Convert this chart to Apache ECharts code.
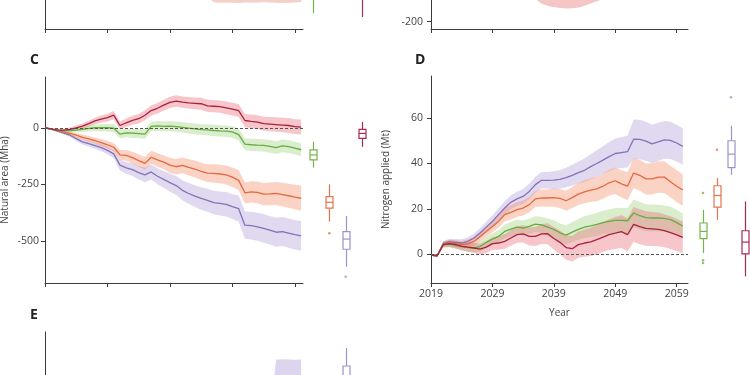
<!DOCTYPE html>
<html>
<head>
<meta charset="utf-8">
<script src="https://cdn.jsdelivr.net/npm/echarts@6/dist/echarts.min.js"></script>
<style>
  html, body { margin: 0; padding: 0; background: #fff; }
  #chart { width: 750px; height: 375px; }
</style>
</head>
<body>
<div id="chart"></div>
<script>
// ---- data ----
var years = [2019,2020,2021,2022,2023,2024,2025,2026,2027,2028,2029,2030,2031,2032,2033,2034,2035,2036,2037,2038,2039,
             2040,2041,2042,2043,2044,2045,2046,2047,2048,2049,2050,2051,2052,2053,2054,2055,2056,2057,2058,2059,2060];
var yearTicks = [2019, 2029, 2039, 2049, 2059];
var boxCats = ['green', 'orange', 'purple', 'red'];

// panel C: natural area (Mha)
var redC    = [0,-5,-10,-10,-7,0,7,18,30,38,45,56,10,22,33,40,55,76,86,100,112,118,113,110,108,106,97,95,93,88,82,76,32,28,25,18,16,14,12,10,5,3];
var greenC  = [0,-6,-12,-13,-13,-10,-7,-3,0,0,0,-2,-28,-23,-24,-26,-28,6,8,6,7,5,2,-2,-5,-8,-9,-12,-14,-15,-18,-30,-72,-75,-77,-78,-82,-88,-80,-83,-90,-97];
var orangeC = [0,-6,-13,-19,-25,-33,-42,-49,-57,-66,-75,-86,-120,-122,-132,-145,-157,-130,-142,-152,-165,-172,-166,-175,-182,-192,-200,-201,-204,-208,-218,-232,-287,-283,-285,-293,-292,-290,-295,-300,-306,-311];
var purpleC = [0,-7,-15,-24,-33,-48,-62,-70,-79,-88,-100,-115,-165,-177,-185,-198,-208,-195,-214,-228,-242,-255,-276,-290,-302,-312,-320,-330,-334,-338,-348,-357,-430,-432,-437,-444,-452,-461,-458,-465,-472,-477];
// half widths of the shaded bands
var hwRedC    = [0,2,4,6,8,10,12,13,14,16,17,18,18,19,20,21,22,22,23,24,25,25,25,26,26,26,27,27,27,28,28,29,29,30,30,31,31,32,32,33,33,33];
var hwGreenC  = [0,2,4,6,8,10,12,13,14,16,17,18,18,19,20,20,21,21,22,22,22,23,23,23,24,24,24,25,25,25,26,26,26,27,27,27,28,28,28,28,28,28];
var hwOrangeC = [0,2,4,6,8,10,12,13,14,16,17,18,22,24,26,27,28,29,30,31,33,34,35,36,37,38,39,40,41,42,43,44,46,47,48,49,50,51,52,53,54,55];
var hwPurpleC = [0,2,4,6,8,10,12,13,14,16,17,18,24,26,28,30,32,33,35,37,40,42,44,46,48,50,51,52,53,54,55,58,60,61,62,63,63,64,64,65,65,66];
// boxes: min, Q1, median, Q3, max (green, orange, purple, red)
var boxC = [[-176,-142,-120,-98,-62], [-414,-355,-329,-304,-250], [-613,-536,-491,-458,-389], [-84,-47,-25,-7,26]];
var outC = [[1,-466], [2,-657]];

// panel D: nitrogen applied (Mt)
var purpleD = [-0.3,-0.6,4.7,5.5,5.3,5.0,5.7,7.2,9.4,12.0,14.5,17.5,20.4,22.9,24.4,25.5,27.7,30.7,32.6,32.6,32.7,33.0,33.8,34.8,36.0,37.0,38.6,40.0,41.5,43.0,44.4,44.8,45.2,50.7,50.6,49.8,48.6,49.5,50.4,50.2,49.0,47.5];
var orangeD = [-0.3,-0.6,4.5,5.0,4.7,4.3,4.7,5.7,7.9,10.1,12.3,14.5,17.5,18.5,19.7,20.4,21.9,24.4,24.8,24.8,25.0,24.6,23.6,25.0,26.5,27.5,28.3,28.8,30.0,31.5,32.4,31.0,30.0,35.8,34.8,33.2,33.2,34.0,34.0,32.0,30.0,28.3];
var greenD  = [-0.3,-0.6,4.3,4.5,4.0,3.5,3.0,2.8,3.5,5.3,6.7,7.9,10.1,11.1,12.0,11.6,12.3,13.3,13.0,12.0,11.0,9.5,8.5,9.8,11.0,12.0,12.5,13.2,14.0,14.5,15.0,15.0,14.8,18.2,17.0,16.2,16.0,16.0,15.8,15.3,14.0,12.5];
var redD    = [-0.3,-0.6,4.3,4.7,4.3,3.5,3.2,2.8,2.3,3.2,4.7,5.0,5.7,7.2,8.7,9.0,7.9,7.9,9.0,9.1,7.0,5.3,3.0,2.5,4.3,5.0,5.5,6.5,7.6,8.7,9.4,10.0,8.7,13.2,12.2,11.4,11.2,11.0,10.4,9.6,8.6,7.5];
var hwPurpleD = [0.3,0.5,1.2,1.4,1.5,1.6,1.8,2,2.2,2.4,2.6,2.8,3,3.1,3.2,3.3,3.4,3.5,3.6,3.7,3.9,4.1,4.3,4.6,4.9,5.2,5.5,5.8,6.1,6.4,6.6,6.8,7.0,8.7,8.7,8.6,8.5,8.4,8.3,8.2,8.1,8.0];
var hwOrangeD = [0.3,0.5,1.2,1.4,1.5,1.6,1.8,2,2.2,2.4,2.6,2.8,3,3.1,3.2,3.3,3.4,3.6,3.7,3.8,4,4.2,4.4,4.6,4.8,5,5.2,5.4,5.5,5.6,5.8,6,6.2,6.6,6.8,6.8,6.9,6.9,7,7,7,7];
var hwGreenD  = [0.3,0.5,1.2,1.4,1.5,1.6,1.8,2,2.2,2.4,2.6,2.8,3,3.1,3.2,3.3,3.4,3.5,3.6,3.8,4,4.1,4.2,4.4,4.6,4.8,5,5.1,5.2,5.3,5.4,5.5,5.6,6,6,5.9,5.9,5.8,5.7,5.7,5.6,5.5];
var hwRedD    = [0.3,0.5,1.3,1.5,1.7,1.8,2,2.2,2.4,2.6,2.8,3,3.2,3.4,3.6,3.8,4,4.2,4.4,4.6,5,5.2,5.4,5.6,5.8,6,6.2,6.4,6.6,6.8,7,7.2,7.3,7.7,7.7,7.6,7.5,7.4,7.3,7.2,7.1,7];
var boxD = [[0.6,6.9,10.1,13.8,19.6], [15.2,20.8,25.9,30.2,33.6], [35,38.2,44.1,50,56.6], [-9.7,0.2,5.4,10.4,23.3]];
var outD = [[0,27], [0,-2.6], [0,-3.8], [1,46], [2,69.2]];

// the cut-off panels A, B (bottom edge) and E (top edge)
var aBandYears = [2045,2046,2047,2048,2049,2050,2051,2052,2053,2054,2055,2056,2057,2058,2059,2060];
var aBandLow   = [32,26.8,26.3,26.5,26.2,26.0,26.4,26.2,26.5,26.8,26.5,26.2,26.0,26.3,26.5,27];
var boxA = [[0, 16,40,50,60,75], [3, 12,45,55,65,80]];
var bBandYears = [2036,2037,2038,2039,2040,2041,2042,2043,2044,2045,2046,2047];
var bBandLow   = [-75,-100,-112,-120,-125,-127,-126,-122,-112,-100,-88,-75];
var eBandYears = [2055,2056,2057,2058,2059,2060];
var eBandHigh  = [60,86.5,86.8,86.6,86.5,86.6];
var boxE = [[2, 55,68,75,83.5,92.2]];

// ---- styles ----
var FONT = 'Open Sans';
var AXC = '#3c3c3c';
var TXT = '#444';
var lineCol = { green: '#64ad3f', orange: '#e5683f', purple: '#8472b6', red: '#a8223f' };
var bandCol = { green: 'rgba(140,200,100,0.32)', orange: 'rgba(245,140,100,0.38)',
                purple: 'rgba(165,145,212,0.35)', red: 'rgba(232,105,118,0.38)' };
var boxCol = ['#74b54a', '#e3764c', '#9f92c6', '#a52a55'];

function pairs(xs, vs) {
  return vs.map(function (v, i) { return [xs[i], v]; });
}

function timeX(grid, max, labels) {
  return {
    type: 'value', gridIndex: grid, min: 2019, max: max,
    axisLine: { show: true, onZero: false, lineStyle: { color: AXC, width: 1 } },
    axisTick: { show: true, length: 4, customValues: yearTicks, lineStyle: { color: AXC } },
    axisLabel: { show: labels, customValues: yearTicks, margin: 6, fontSize: 10.5, color: TXT, fontFamily: FONT,
                 formatter: function (v) { return String(v); } },
    splitLine: { show: false }
  };
}

function valueY(grid, min, max, ticks, margin) {
  return {
    type: 'value', gridIndex: grid, min: min, max: max,
    axisLine: { show: true, lineStyle: { color: AXC, width: 1 } },
    axisTick: { show: ticks.length > 0, length: 4, customValues: ticks, lineStyle: { color: AXC } },
    axisLabel: { show: ticks.length > 0, customValues: ticks, margin: margin, fontSize: 10.5, color: TXT, fontFamily: FONT,
                 formatter: function (v) { return String(v); } },
    splitLine: { show: false },
    nameTextStyle: { fontSize: 10, color: TXT, fontFamily: FONT }
  };
}

function hiddenX(grid) {
  return { type: 'category', gridIndex: grid, data: boxCats, show: false };
}
function hiddenY(grid, min, max) {
  return { type: 'value', gridIndex: grid, min: min, max: max, show: false };
}

// shaded band drawn as one polygon: mean +/- half width
function bandSeries(ax, key, mean, hw) {
  var rows = mean.map(function (v, i) { return [years[i], v - hw[i], v + hw[i]]; });
  return {
    type: 'custom', xAxisIndex: ax, yAxisIndex: ax, data: rows, encode: { x: 0, y: [1, 2] },
    silent: true, z: 1,
    renderItem: function (params, api) {
      if (params.dataIndex !== 0) return null;
      var top = rows.map(function (r) { return api.coord([r[0], r[2]]); });
      var bot = rows.map(function (r) { return api.coord([r[0], r[1]]); }).reverse();
      return { type: 'polygon', shape: { points: top.concat(bot) }, style: { fill: bandCol[key] } };
    }
  };
}
function meanSeries(ax, key, mean) {
  return { type: 'line', xAxisIndex: ax, yAxisIndex: ax, data: pairs(years, mean), symbol: 'none',
           lineStyle: { color: lineCol[key], width: 1.3 }, z: 3 };
}
var zeroLine = {
  silent: true, symbol: 'none', label: { show: false },
  lineStyle: { type: [3, 2], color: '#555', width: 1 }, data: [{ yAxis: 0 }]
};

function renderBox(params, api) {
  var c = api.value(0);
  var p = [1, 2, 3, 4, 5].map(function (i) { return api.coord([c, api.value(i)]); });
  var x = Math.round(p[0][0]) + 0.5, hw = 3.5;
  var st = { stroke: boxCol[c], fill: '#fff', lineWidth: 1.2 };
  return {
    type: 'group',
    children: [
      { type: 'line', shape: { x1: x, y1: p[0][1], x2: x, y2: p[1][1] }, style: st },
      { type: 'line', shape: { x1: x, y1: p[3][1], x2: x, y2: p[4][1] }, style: st },
      { type: 'rect', shape: { x: x - hw, y: p[3][1], width: hw * 2, height: p[1][1] - p[3][1] }, style: st },
      { type: 'line', shape: { x1: x - hw, y1: p[2][1], x2: x + hw, y2: p[2][1] }, style: st }
    ]
  };
}
function boxSeries(ax, rows, withCat) {
  var data = withCat ? rows : rows.map(function (r, i) { return [i].concat(r); });
  return { type: 'custom', xAxisIndex: ax, yAxisIndex: ax, renderItem: renderBox, data: data, clip: false, z: 3 };
}
function outlierSeries(ax, pts) {
  return { type: 'scatter', xAxisIndex: ax, yAxisIndex: ax, data: pts, symbolSize: 2.5, z: 3,
           itemStyle: { color: function (p) { return boxCol[p.value[0]]; } } };
}

var chart = echarts.init(document.getElementById('chart'));

var cY = valueY(3, -685, 224, [-500, -250, 0], 6);
cY.name = 'Natural area (Mha)'; cY.nameLocation = 'middle'; cY.nameGap = 35;
var dY = valueY(5, -12.6, 78.5, [0, 20, 40, 60], 8);
dY.name = 'Nitrogen applied (Mt)'; dY.nameLocation = 'middle'; dY.nameGap = 40;
var dX = timeX(5, 2060.85, true);
dX.name = 'Year'; dX.nameLocation = 'middle'; dX.nameGap = 25;
dX.nameTextStyle = { fontSize: 10, color: TXT, fontFamily: FONT };
var eX = timeX(7, 2060.3, false); eX.show = false;

var series = [];
// A and B: only the lower edge of their plots is in frame
series.push({ type: 'line', xAxisIndex: 0, yAxisIndex: 0, data: pairs(aBandYears, aBandLow), symbol: 'none',
              lineStyle: { opacity: 0 }, areaStyle: { color: '#f3d0c8', opacity: 1, origin: 'end' }, z: 1 });
series.push(boxSeries(1, boxA, true));
series.push({ type: 'line', xAxisIndex: 2, yAxisIndex: 2, data: pairs(bBandYears, bBandLow), symbol: 'none', smooth: 0.4,
              lineStyle: { opacity: 0 }, areaStyle: { color: '#f6c6c6', opacity: 1, origin: 'end' }, z: 1 });
// C
series.push(bandSeries(3, 'purple', purpleC, hwPurpleC), bandSeries(3, 'orange', orangeC, hwOrangeC),
            bandSeries(3, 'green', greenC, hwGreenC), bandSeries(3, 'red', redC, hwRedC));
var cLines = [meanSeries(3, 'purple', purpleC), meanSeries(3, 'orange', orangeC), meanSeries(3, 'green', greenC), meanSeries(3, 'red', redC)];
cLines[0].markLine = zeroLine;
series = series.concat(cLines);
series.push(boxSeries(4, boxC, false), outlierSeries(4, outC));
// D
series.push(bandSeries(5, 'purple', purpleD, hwPurpleD), bandSeries(5, 'orange', orangeD, hwOrangeD),
            bandSeries(5, 'green', greenD, hwGreenD), bandSeries(5, 'red', redD, hwRedD));
var dLines = [meanSeries(5, 'purple', purpleD), meanSeries(5, 'orange', orangeD), meanSeries(5, 'green', greenD), meanSeries(5, 'red', redD)];
dLines[0].markLine = zeroLine;
series = series.concat(dLines);
series.push(boxSeries(6, boxD, false), outlierSeries(6, outD));
// E: only the top edge is in frame
series.push({ type: 'line', xAxisIndex: 7, yAxisIndex: 7, data: pairs(eBandYears, eBandHigh), symbol: 'none',
              lineStyle: { opacity: 0 }, areaStyle: { color: '#ddd5ee', opacity: 1, origin: 'start' }, z: 1 });
series.push(boxSeries(8, boxE, true));

var letter = function (t, left, top) {
  return { text: t, left: left, top: top, padding: 0,
           textStyle: { fontSize: 14, fontWeight: 'bold', color: '#222', fontFamily: FONT } };
};
var g = function (left, top, width, height) {
  return { left: left, top: top, width: width, height: height, outerBoundsMode: 'none', containLabel: false };
};

chart.setOption({
  animation: false,
  backgroundColor: '#fff',
  title: [letter('C', 30, 53), letter('D', 415, 53), letter('E', 30, 308)],
  grid: [
    g(45, -171, 258, 200),  // A
    g(305, -171, 65, 200),
    g(431, -200, 257, 229), // B
    g(45, 77, 258, 206),    // C
    g(305, 77, 65, 206),
    g(431, 76, 257, 207),   // D
    g(696, 76, 56, 207),
    g(45, 332, 258, 206),   // E
    g(305, 332, 65, 206)
  ],
  xAxis: [
    timeX(0, 2060.3, false), hiddenX(1), timeX(2, 2060.85, false),
    timeX(3, 2060.3, false), hiddenX(4), dX, hiddenX(6), eX, hiddenX(8)
  ],
  yAxis: [
    valueY(0, 0, 200, [], 6), hiddenY(1, 0, 200), valueY(2, -240, 1015, [-200], 8),
    cY, hiddenY(4, -685, 224), dY, hiddenY(6, -12.6, 78.5), valueY(7, 0, 100, [], 6), hiddenY(8, 0, 100)
  ],
  series: series
});
</script>
</body>
</html>
